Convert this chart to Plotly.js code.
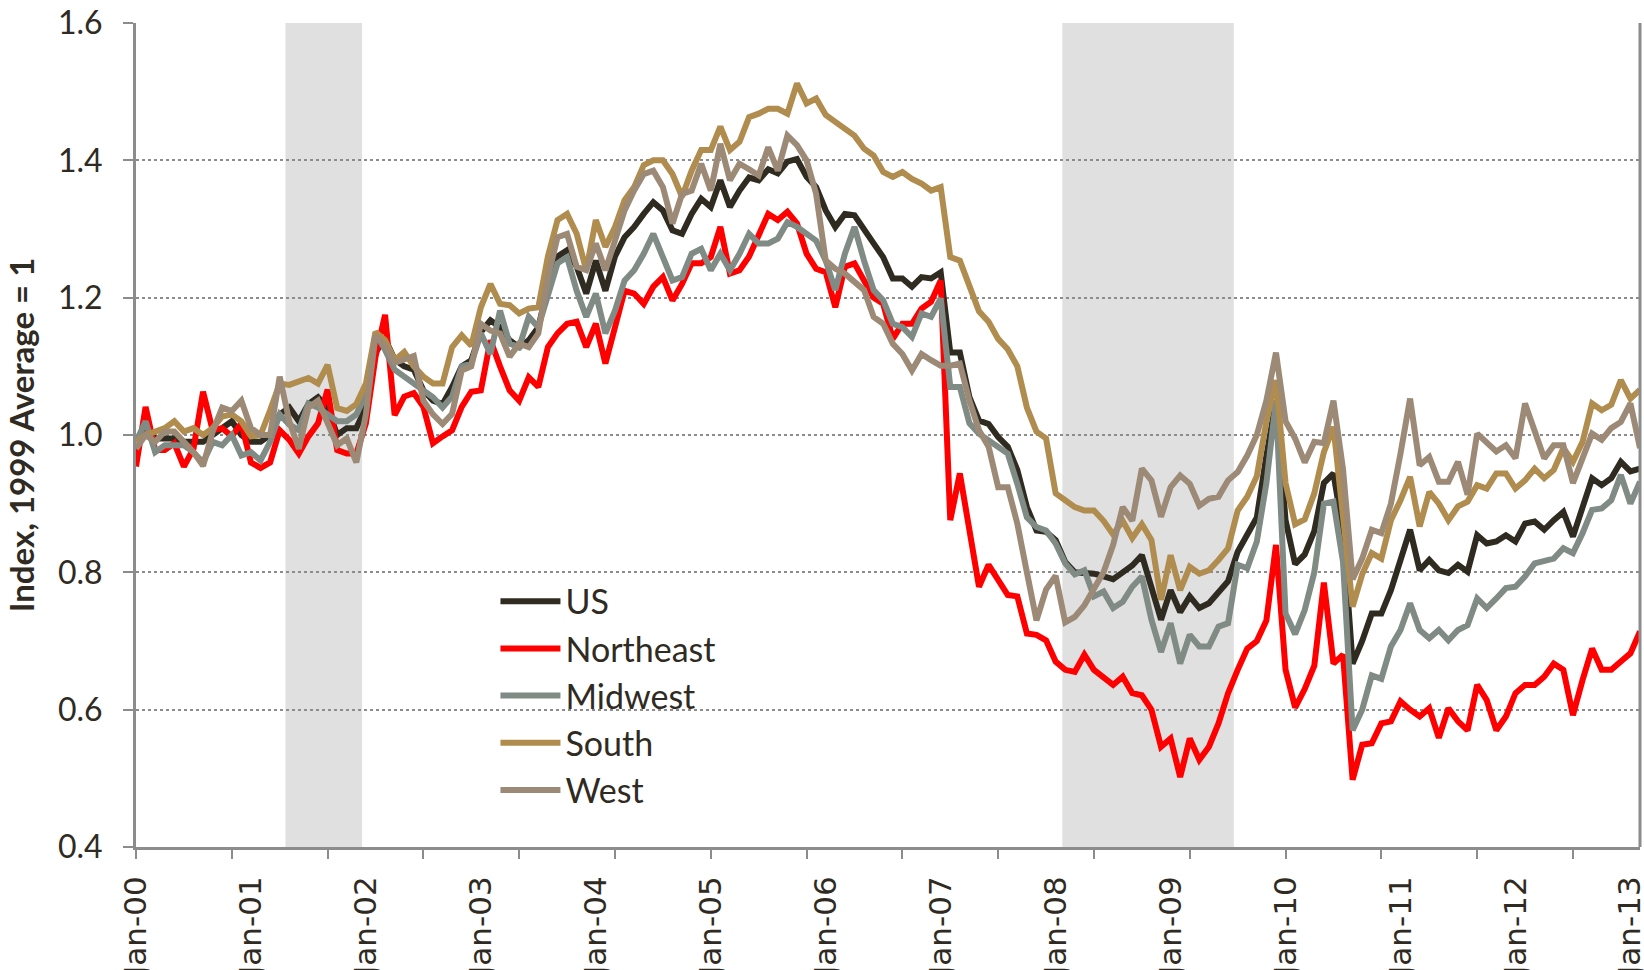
<!DOCTYPE html>
<html><head><meta charset="utf-8">
<script src="https://cdn.plot.ly/plotly-3.0.1.min.js"></script>
<style>html,body{margin:0;padding:0;background:#fff}#chart{width:1644px;height:970px}</style>
</head><body><div id="chart"></div>
<script>
// Monthly index values, Jan-2000 .. Feb-2013 (158 months), 1999 average = 1
const seriesNames = ['US', 'Northeast', 'Midwest', 'South', 'West'];

const us = [
0.99,1.01,0.995,0.995,0.995,0.99,0.99,0.99,1.0,1.01,
1.02,1.0,0.99,0.99,1.0,1.03,1.04,1.02,1.045,1.055,
1.04,1.0,1.01,1.01,1.04,1.12,1.14,1.11,1.1,1.095,
1.065,1.05,1.045,1.07,1.1,1.109,1.15,1.167,1.157,1.138,
1.128,1.138,1.157,1.216,1.26,1.269,1.245,1.206,1.254,1.21,
1.26,1.288,1.303,1.322,1.339,1.327,1.298,1.293,1.322,1.344,
1.332,1.371,1.332,1.356,1.375,1.371,1.387,1.381,1.398,1.402,
1.376,1.361,1.327,1.303,1.322,1.32,1.298,1.279,1.259,1.228,
1.228,1.216,1.23,1.228,1.237,1.12,1.12,1.055,1.021,1.016,
0.997,0.983,0.949,0.895,0.861,0.859,0.847,0.815,0.80,0.80,
0.798,0.794,0.79,0.8,0.81,0.825,0.774,0.731,0.774,0.742,
0.765,0.748,0.755,0.77,0.787,0.83,0.855,0.88,0.97,1.05,
0.876,0.812,0.826,0.86,0.93,0.944,0.86,0.667,0.7,0.74,
0.74,0.774,0.818,0.862,0.803,0.818,0.803,0.799,0.811,0.801,
0.854,0.842,0.845,0.854,0.845,0.871,0.874,0.862,0.876,0.888,
0.852,0.893,0.937,0.927,0.937,0.961,0.947,0.951];

const northeast = [
0.954,1.041,0.978,0.978,0.988,0.954,0.98,1.063,1.007,1.01,
0.998,1.017,0.96,0.952,0.96,1.007,0.993,0.973,0.998,1.017,
1.066,0.978,0.973,0.973,1.017,1.114,1.175,1.029,1.056,1.061,
1.041,0.988,0.998,1.007,1.041,1.063,1.065,1.138,1.1,1.065,
1.05,1.084,1.07,1.128,1.148,1.162,1.165,1.128,1.162,1.104,
1.157,1.21,1.206,1.191,1.216,1.23,1.196,1.22,1.25,1.25,
1.259,1.303,1.235,1.24,1.26,1.29,1.322,1.313,1.325,1.308,
1.264,1.242,1.237,1.186,1.245,1.25,1.225,1.2,1.191,1.14,
1.162,1.162,1.184,1.194,1.225,0.876,0.944,0.86,0.779,0.811,
0.789,0.767,0.765,0.711,0.709,0.701,0.67,0.658,0.655,0.68,
0.658,0.646,0.636,0.648,0.624,0.621,0.6,0.546,0.558,0.502,
0.558,0.527,0.546,0.58,0.624,0.658,0.689,0.70,0.73,0.84,
0.658,0.603,0.63,0.664,0.785,0.667,0.68,0.498,0.549,0.551,
0.58,0.583,0.612,0.6,0.59,0.602,0.559,0.602,0.583,0.57,
0.636,0.614,0.57,0.59,0.624,0.636,0.636,0.648,0.667,0.658,
0.592,0.643,0.689,0.658,0.658,0.67,0.682,0.714];

const midwest = [
0.99,1.02,0.975,0.985,0.985,0.985,0.975,0.96,0.99,0.985,
1.0,0.97,0.975,0.963,0.99,1.03,1.015,1.007,1.046,1.04,
1.03,1.02,1.02,1.03,1.06,1.148,1.124,1.095,1.085,1.075,
1.065,1.055,1.04,1.056,1.1,1.104,1.148,1.118,1.181,1.133,
1.128,1.172,1.157,1.206,1.25,1.259,1.21,1.172,1.206,1.148,
1.181,1.225,1.24,1.264,1.293,1.259,1.225,1.23,1.264,1.271,
1.24,1.264,1.24,1.264,1.293,1.279,1.279,1.286,1.31,1.303,
1.293,1.283,1.254,1.211,1.264,1.303,1.254,1.211,1.196,1.162,
1.157,1.143,1.177,1.172,1.199,1.07,1.07,1.017,1.002,0.992,
0.983,0.973,0.929,0.88,0.866,0.861,0.842,0.813,0.797,0.803,
0.765,0.772,0.748,0.757,0.779,0.794,0.731,0.684,0.726,0.667,
0.709,0.692,0.692,0.721,0.726,0.811,0.806,0.845,0.93,1.05,
0.74,0.71,0.745,0.8,0.9,0.903,0.815,0.57,0.6,0.65,
0.645,0.692,0.716,0.755,0.716,0.704,0.716,0.701,0.716,0.723,
0.762,0.748,0.762,0.777,0.779,0.794,0.813,0.816,0.82,0.835,
0.828,0.857,0.891,0.893,0.905,0.942,0.9,0.932];

const south = [
0.99,1.0,1.005,1.01,1.02,1.005,1.01,1.0,1.01,1.027,
1.03,1.02,0.998,1.0,1.036,1.075,1.073,1.078,1.083,1.075,
1.102,1.039,1.035,1.045,1.075,1.15,1.138,1.109,1.121,1.1,
1.085,1.075,1.075,1.128,1.145,1.13,1.186,1.22,1.191,1.189,
1.177,1.184,1.186,1.26,1.313,1.322,1.293,1.24,1.313,1.274,
1.303,1.342,1.361,1.393,1.4,1.4,1.38,1.347,1.385,1.415,
1.415,1.449,1.415,1.427,1.463,1.468,1.475,1.475,1.468,1.512,
1.483,1.49,1.466,1.456,1.446,1.436,1.417,1.407,1.383,1.376,
1.383,1.373,1.366,1.356,1.361,1.259,1.254,1.215,1.18,1.165,
1.14,1.125,1.10,1.04,1.005,0.995,0.915,0.905,0.895,0.89,
0.89,0.875,0.855,0.875,0.85,0.87,0.847,0.76,0.825,0.774,
0.808,0.798,0.803,0.818,0.835,0.89,0.91,0.94,1.02,1.08,
0.93,0.87,0.877,0.915,0.975,1.012,0.89,0.75,0.797,0.828,
0.82,0.876,0.905,0.939,0.867,0.917,0.9,0.876,0.896,0.903,
0.927,0.922,0.944,0.944,0.922,0.934,0.951,0.937,0.949,0.981,
0.961,0.99,1.046,1.036,1.044,1.08,1.053,1.066];

const west = [
0.98,1.0,0.99,1.005,1.005,0.99,0.975,0.955,1.005,1.04,
1.035,1.05,1.01,1.0,1.0,1.085,1.02,0.98,1.04,1.05,
1.02,0.985,0.995,0.96,1.03,1.145,1.13,1.105,1.11,1.115,
1.05,1.03,1.016,1.031,1.094,1.1,1.162,1.152,1.148,1.114,
1.133,1.128,1.148,1.23,1.288,1.293,1.245,1.24,1.279,1.24,
1.283,1.327,1.356,1.38,1.385,1.361,1.308,1.351,1.356,1.395,
1.356,1.424,1.371,1.395,1.387,1.378,1.419,1.385,1.436,1.422,
1.4,1.351,1.254,1.242,1.235,1.223,1.211,1.172,1.162,1.133,
1.118,1.094,1.118,1.109,1.101,1.101,1.104,1.05,1.007,0.983,
0.924,0.924,0.871,0.80,0.73,0.775,0.795,0.727,0.735,0.752,
0.775,0.80,0.84,0.895,0.875,0.951,0.934,0.881,0.924,0.941,
0.929,0.897,0.907,0.91,0.934,0.946,0.97,1.0,1.05,1.12,
1.02,0.995,0.96,0.99,0.988,1.05,0.95,0.79,0.82,0.862,
0.857,0.9,0.973,1.053,0.956,0.968,0.932,0.932,0.961,0.913,
1.002,0.988,0.976,0.985,0.966,1.046,1.007,0.966,0.985,0.985,
0.93,0.968,1.002,0.993,1.01,1.019,1.046,0.981];

// x-axis labels (every 12 months) and their month positions
const tickLabels = ['Jan-00','Jan-01','Jan-02','Jan-03','Jan-04','Jan-05','Jan-06',
                    'Jan-07','Jan-08','Jan-09','Jan-10','Jan-11','Jan-12','Jan-13'];
const tickMonths = [0,12,24,36,48,60,72,84,96,108,120,132,144,156];

// Recession shading, in month positions on the axis
const recessionStart = [15.6, 96.7];
const recessionEnd   = [23.6, 114.6];

const monthIndex = us.map((_, i) => i);

const colors = ['#2f2b21', '#ff0000', '#7f8b84', '#b08c4e', '#9c8a77'];
const allSeries = [us, northeast, midwest, south, west];

const traces = allSeries.map((vals, k) => ({
  type: 'scatter', mode: 'lines', name: seriesNames[k],
  x: monthIndex, y: vals,
  line: {color: colors[k], width: 6},
  hoverinfo: 'skip'
}));
// carrier for the tick-mark axis (10-month tick spacing)
traces.push({type:'scatter', mode:'lines', x:[], y:[], xaxis:'x2', yaxis:'y', showlegend:false, hoverinfo:'skip'});

const grey = '#8c8c8c';
const txt = '#2f2b23';

const shapes = recessionStart.map((s, k) => ({
  type:'rect', xref:'x', yref:'paper', x0:s, x1:recessionEnd[k], y0:0, y1:1,
  fillcolor:'#e0e0e0', line:{width:0}, layer:'below'
}));
shapes.push({type:'line', xref:'paper', yref:'paper', x0:1, x1:1, y0:0, y1:1,
  line:{color:grey, width:3}});

const layout = {
  width:1644, height:970,
  margin:{l:136, r:4, t:23, b:123, autoexpand:false},
  paper_bgcolor:'#ffffff', plot_bgcolor:'rgba(0,0,0,0)',
  showlegend:true,
  legend:{x:0.239, y:0.333, xanchor:'left', yanchor:'top',
    font:{family:'Lato, sans-serif', size:34, color:txt},
    bgcolor:'rgba(0,0,0,0)', itemwidth:60, tracegroupgap:0},
  xaxis:{range:[0,157], tickmode:'array', tickvals:tickMonths, ticktext:tickLabels,
    ticks:'', tickangle:-90, ticklabelstandoff:14, ticklabeloverflow:'allow',
    tickfont:{family:'DejaVu Sans, sans-serif', size:31, color:txt},
    showgrid:false, zeroline:false, showline:true, linecolor:grey, linewidth:3,
    automargin:false, fixedrange:true},
  xaxis2:{overlaying:'x', anchor:'y', side:'bottom', range:[0,157],
    tickmode:'linear', tick0:0, dtick:10, ticks:'outside', ticklen:11, tickwidth:2,
    tickcolor:grey, showticklabels:false, showgrid:false, zeroline:false, showline:false,
    fixedrange:true},
  yaxis:{range:[0.4,1.6], tickmode:'linear', tick0:0.4, dtick:0.2, tickformat:'.1f',
    ticks:'outside', ticklen:10, tickwidth:2, tickcolor:grey,
    showline:true, linecolor:grey, linewidth:3,
    showgrid:true, gridcolor:grey, gridwidth:2, griddash:'dot', zeroline:false,
    tickfont:{family:'Lato, sans-serif', size:32, color:txt}, ticklabelstandoff:14,
    title:{text:'<b>Index, 1999 Average = 1</b>', standoff:14,
      font:{family:'Lato, sans-serif', size:33, color:txt}},
    automargin:false, fixedrange:true},
  shapes:shapes
};

Plotly.newPlot('chart', traces, layout, {displayModeBar:false, staticPlot:true});
</script>
</body></html>
